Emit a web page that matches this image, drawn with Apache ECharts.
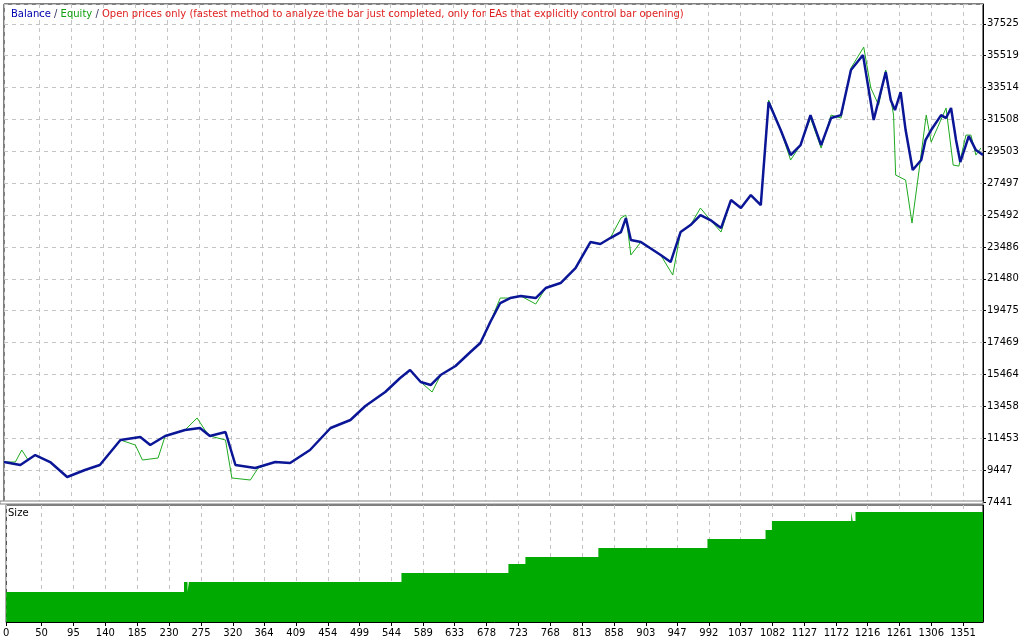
<!DOCTYPE html>
<html>
<head>
<meta charset="utf-8">
<script src="https://cdn.jsdelivr.net/npm/echarts@6/dist/echarts.min.js"></script>
<style>html,body{margin:0;padding:0;background:#fff}#chart{width:1024px;height:640px}</style>
</head>
<body>
<div id="chart"></div>
<script>
// trade numbers and balance / equity values
var balTrades = [0,23,44,65,89,114,135,164,192,206,227,255,276,290,312,326,354,382,403,431,460,488,509,537,558,572,587,601,615,636,657,671,685,699,713,728,749,763,784,805,826,840,854,869,876,883,897,925,939,953,967,981,995,1010,1024,1038,1052,1066,1077,1094,1108,1122,1136,1151,1165,1179,1193,1210,1225,1242,1249,1255,1263,1270,1280,1292,1298,1306,1320,1327,1334,1341,1347,1359,1369,1379];
var balValues = [9957,9768,10397,9957,9014,9454,9768,11341,11530,11026,11592,11970,12096,11592,11844,9768,9580,9957,9894,10712,12096,12599,13479,14360,15241,15744,14989,14800,15429,15995,16876,17442,18763,19958,20273,20398,20273,20902,21216,22160,23795,23669,24047,24424,25305,23921,23795,22977,22537,24424,24864,25493,25179,24676,26437,25934,26751,26122,32601,30840,29267,29896,31783,29896,31595,31783,34614,35557,31469,34488,32727,32098,33230,30840,28324,28953,30211,30840,31783,31595,32224,30211,28827,30462,29582,29267];
var eqTrades = [0,16,25,34,44,65,89,114,135,164,185,195,217,227,255,272,283,290,312,321,347,358,382,403,431,460,488,509,537,558,572,587,603,615,636,657,671,685,699,713,728,749,763,784,805,826,840,854,869,876,883,897,925,942,953,967,981,995,1010,1024,1038,1052,1066,1077,1094,1108,1122,1136,1151,1165,1179,1193,1211,1221,1232,1242,1253,1256,1270,1279,1289,1299,1306,1327,1337,1345,1355,1362,1369,1376];
var eqValues = [9957,9957,10712,10083,10397,9957,9014,9454,9768,11341,11026,10083,10209,11592,11970,12725,11970,11592,11341,8951,8825,9580,9957,9894,10712,12096,12599,13479,14360,15241,15744,14989,14360,15429,15995,16876,17442,18763,20273,20273,20398,19895,20902,21216,22160,23795,23669,24047,25305,25493,22977,23795,22977,21719,24424,24864,25934,25179,24424,26437,25934,26751,26122,32727,30840,28953,29896,31595,29707,31783,31595,34740,36061,33482,32413,34614,31783,28009,27695,24990,28324,31783,30085,32224,28638,28575,30525,30525,29267,29707];
var sizeTrades = [0,251,256,258,262,558,709,733,836,990,1072,1081,1193,1195,1199,1379];
var sizeValues = [0.30,0.40,0.30,0.40,0.40,0.49,0.58,0.65,0.74,0.83,0.92,1.01,1.10,1.01,1.10,1.10];
var xTickLabels = [0,50,95,140,185,230,275,320,364,409,454,499,544,589,633,678,723,768,813,858,903,947,992,1037,1082,1127,1172,1216,1261,1306,1351];
var yTickLabels = ['7441','9447','11453','13458','15464','17469','19475','21480','23486','25492','27497','29503','31508','33514','35519','37525'];
var yBase = 7441, yStep = 2005.6;

var nTrades = 1380;
var cats = [];
for (var i = 0; i < nTrades; i++) cats.push(String(i));
var tickSet = {};
xTickLabels.forEach(function (t) { tickSet[t] = true; });
var onTick = function (idx) { return !!tickSet[idx]; };

var pairs = function (xs, ys, off) {
    return xs.map(function (x, i) { return [x, ys[i] - off]; });
};

var gridLine = {show: true, interval: onTick, lineStyle: {color: '#c4c4c4', type: [4, 4], width: 1}};
var font = 'Tahoma, "DejaVu Sans", sans-serif';

var chart = echarts.init(document.getElementById('chart'), null, {renderer: 'canvas'});
chart.setOption({
    animation: false,
    backgroundColor: '#fff',
    title: {
        left: 6, top: 4,
        text: '{b|Balance} {s|/} {e|Equity} {s|/} {r|Open prices only (fastest method to analyze the bar just completed, only for EAs that explicitly control bar opening)}',
        textStyle: {
            fontSize: 10, fontFamily: font, fontWeight: 'normal',
            rich: {
                b: {color: '#0000b0', fontSize: 10, fontFamily: font, fontWeight: 'normal'},
                e: {color: '#10a010', fontSize: 10, fontFamily: font, fontWeight: 'normal'},
                s: {color: '#303060', fontSize: 10, fontFamily: font, fontWeight: 'normal'},
                r: {color: '#e02020', fontSize: 10, fontFamily: font, fontWeight: 'normal'}
            }
        }
    },
    graphic: [
        {type: 'text', left: 8, top: 508, style: {text: 'Size', fontSize: 10, fontFamily: font, fill: '#000'}},
        {type: 'rect', shape: {x: 0, y: 501, width: 983, height: 3}, style: {fill: '#fff', stroke: '#808080', lineWidth: 1}, z: 10}
    ],
    grid: [
        {left: 4, top: 4, width: 979, height: 498, show: true, borderColor: '#000', borderWidth: 1},
        {left: 4, top: 505, width: 979, height: 117, show: true, borderColor: '#000', borderWidth: 1}
    ],
    xAxis: [
        {type: 'category', gridIndex: 0, data: cats, boundaryGap: false,
            axisLine: {show: false}, axisTick: {show: false}, axisLabel: {show: false}, splitLine: gridLine},
        {type: 'category', gridIndex: 1, data: cats, boundaryGap: false,
            axisLine: {show: true, lineStyle: {color: '#000'}},
            axisTick: {show: true, interval: onTick, length: 4, lineStyle: {color: '#000'}},
            axisLabel: {show: true, interval: onTick, fontSize: 10, fontFamily: font, color: '#000', margin: 6},
            splitLine: gridLine}
    ],
    yAxis: [
        {type: 'value', gridIndex: 0, position: 'right', min: 0, max: 31330, interval: yStep,
            axisLine: {show: true, lineStyle: {color: '#000'}},
            axisTick: {show: true, length: 3, lineStyle: {color: '#000'}},
            axisLabel: {fontSize: 10, fontFamily: font, color: '#000', margin: 4, showMaxLabel: false,
                formatter: function (v) { return yTickLabels[Math.round(v / yStep)] || ''; }},
            splitLine: {show: true, lineStyle: {color: '#c4c4c4', type: [4, 4]}}},
        {type: 'value', gridIndex: 1, position: 'right', min: 0, max: 1.17,
            axisLine: {show: true, lineStyle: {color: '#000'}}, axisTick: {show: false},
            axisLabel: {show: false}, splitLine: {show: false}}
    ],
    series: [
        {name: 'Equity', type: 'line', xAxisIndex: 0, yAxisIndex: 0, data: pairs(eqTrades, eqValues, yBase),
            showSymbol: false, lineStyle: {color: '#1faa1f', width: 1}, z: 2},
        {name: 'Balance', type: 'line', xAxisIndex: 0, yAxisIndex: 0, data: pairs(balTrades, balValues, yBase),
            showSymbol: false, lineStyle: {color: '#0a1696', width: 2.5}, z: 3},
        {name: 'Size', type: 'line', xAxisIndex: 1, yAxisIndex: 1, step: 'end', data: pairs(sizeTrades, sizeValues, 0),
            showSymbol: false, lineStyle: {width: 0}, areaStyle: {color: '#00aa00', opacity: 1}, z: 1}
    ]
});
</script>
</body>
</html>
